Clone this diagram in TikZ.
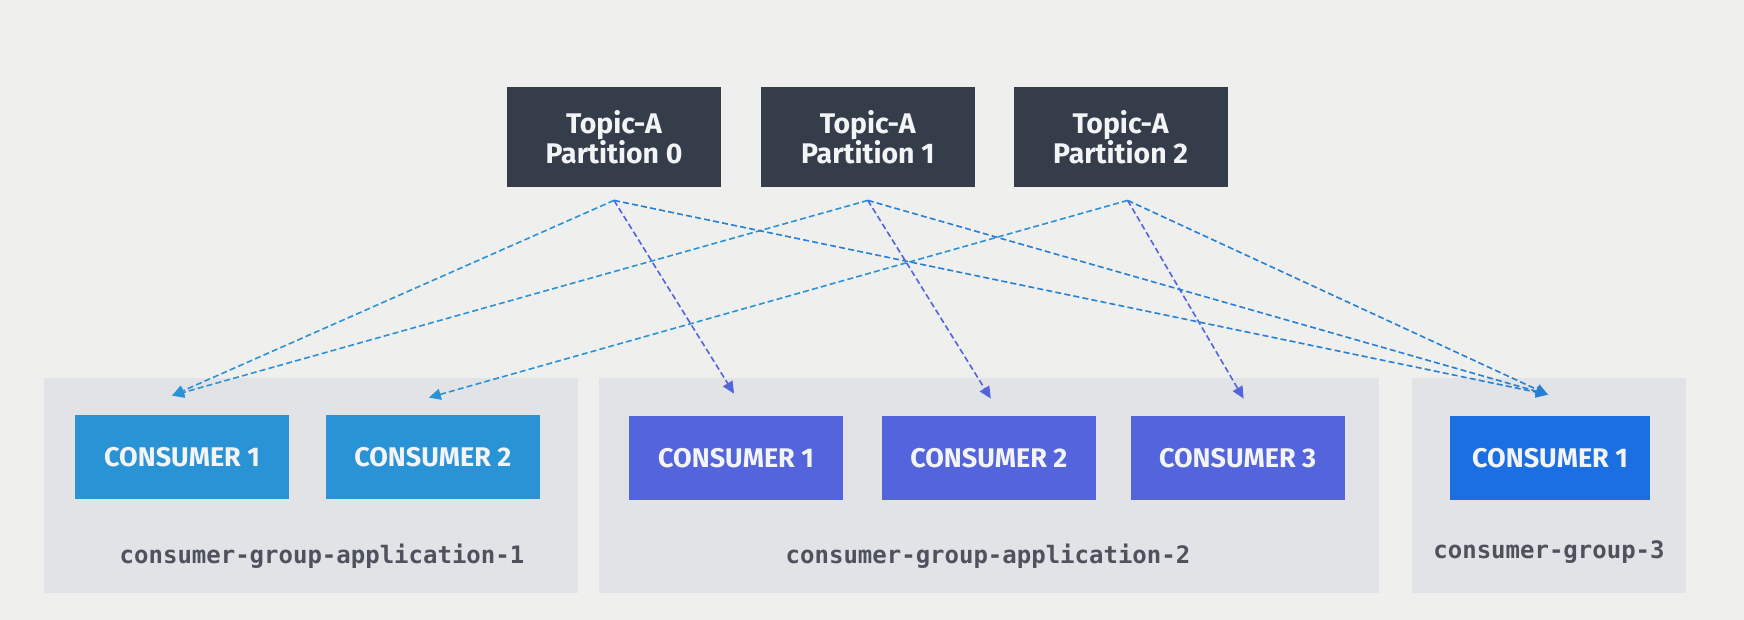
\documentclass[tikz,border=0pt]{standalone}
\usepackage{fontspec}
\setmainfont{Fira Sans}
\setmonofont{DejaVu Sans Mono}
\usepackage{tikz}
\usetikzlibrary{arrows.meta, positioning}
\definecolor{Canvas}{HTML}{EFEFEE}
\definecolor{Panel}{HTML}{E1E3E6}
\definecolor{Slate}{HTML}{353D4B}
\definecolor{SkyBlue}{HTML}{2A93D5}
\definecolor{Indigo}{HTML}{5464DC}
\definecolor{Azure}{HTML}{1C6FE2}
\definecolor{LinkBlue}{HTML}{2680D6}
\definecolor{LabelGray}{HTML}{4D525D}
\definecolor{Snow}{HTML}{F2F4F6}

\begin{document}
\begin{tikzpicture}[x=0.5pt, y=-0.5pt, >={Triangle[length=6pt, width=5.5pt]},
  topic/.style={fill=Slate, text=Snow, font=\bfseries\fontsize{14.2}{15}\selectfont, align=center, minimum width=107pt, minimum height=50pt, inner sep=0pt},
  consumer/.style={text=Snow, font=\bfseries\fontsize{13.5}{15}\selectfont, minimum width=107pt, minimum height=42pt, inner sep=0pt},
  group/.style={fill=Panel, minimum height=107.5pt, inner sep=0pt},
  grouplabel/.style={text=LabelGray, font=\ttfamily\bfseries\fontsize{12}{14}\selectfont},
  link/.style={->, dash pattern=on 3pt off 1.6pt, line width=0.8pt}]
  \fill[Canvas] (0,0) rectangle (1744,620);
  \useasboundingbox (0,0) rectangle (1744,620);

  \node[group, minimum width=266.75pt] (grp1) at (311,485.5) {};
  \node[group, minimum width=389.75pt] (grp2) at (989,485.5) {};
  \node[group, minimum width=136.75pt] (grp3) at (1549,485.5) {};

  \node[topic] (part0) at (614,137) {Topic-A\\Partition 0};
  \node[topic, right=19.5pt of part0] (part1) {Topic-A\\Partition 1};
  \node[topic, right=19pt of part1] (part2) {Topic-A\\Partition 2};

  \node[consumer, fill=SkyBlue] (app1c1) at (182,457) {CONSUMER 1};
  \node[consumer, fill=SkyBlue, right=18pt of app1c1] (app1c2) {CONSUMER 2};
  \node[consumer, fill=Indigo] (app2c1) at (736,458) {CONSUMER 1};
  \node[consumer, fill=Indigo, right=19pt of app2c1] (app2c2) {CONSUMER 2};
  \node[consumer, fill=Indigo, right=17pt of app2c2] (app2c3) {CONSUMER 3};
  \node[consumer, fill=Azure, minimum width=100pt] (app3c1) at (1550,458) {CONSUMER 1};

  \node[grouplabel] (lbl1) at (322,556) {consumer-group-application-1};
  \node[grouplabel] (lbl2) at (988,556) {consumer-group-application-2};
  \node[grouplabel] (lbl3) at (1549,552) {consumer-group-3};

  \coordinate (src0) at ([yshift=-6.5pt]part0.south);
  \coordinate (src1) at ([yshift=-6.5pt]part1.south);
  \coordinate (src2) at ([xshift=3.5pt, yshift=-6.5pt]part2.south);
  \coordinate (dst11) at ([xshift=-5pt, yshift=9.5pt]app1c1.north);
  \coordinate (dst12) at ([xshift=-2pt, yshift=8.5pt]app1c2.north);
  \coordinate (dst21) at ([xshift=-1pt, yshift=11pt]app2c1.north);
  \coordinate (dst22) at ([xshift=1pt, yshift=8.5pt]app2c2.north);
  \coordinate (dst23) at ([xshift=3pt, yshift=8.5pt]app2c3.north);
  \coordinate (dst31) at ([xshift=-1pt, yshift=10.5pt]app3c1.north);

  \draw[link, SkyBlue] (src0) -- (dst11);
  \draw[link, SkyBlue] (src1) -- (dst11);
  \draw[link, SkyBlue] (src2) -- (dst12);
  \draw[link, Indigo] (src0) -- (dst21);
  \draw[link, Indigo] (src1) -- (dst22);
  \draw[link, Indigo] (src2) -- (dst23);
  \draw[link, LinkBlue] (src0) -- (dst31);
  \draw[link, LinkBlue] (src1) -- (dst31);
  \draw[link, LinkBlue] (src2) -- (dst31);
\end{tikzpicture}
\end{document}
